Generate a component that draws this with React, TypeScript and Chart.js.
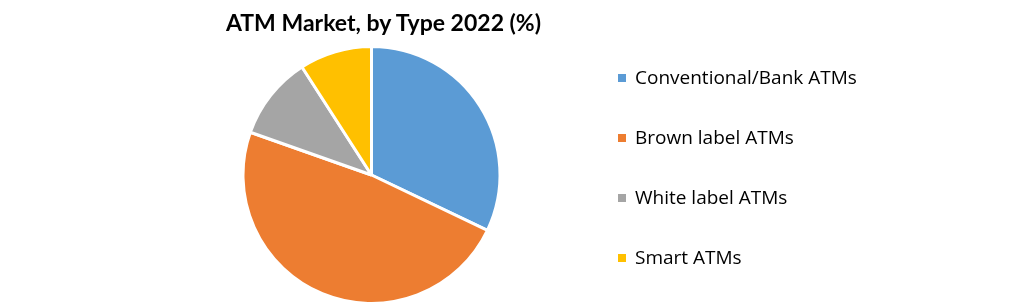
import React, { useEffect, useRef } from "react";
import { Chart, registerables } from "chart.js";

Chart.register(...registerables);

const title = "ATM Market, by Type 2022 (%)";
const categories = ["Conventional/Bank ATMs", "Brown label ATMs", "White label ATMs", "Smart ATMs"];
const shares = [32.1, 48.3, 10.5, 9.1];
const colors = ["#5B9BD5", "#ED7D31", "#A5A5A5", "#FFC000"];

export default function App() {
  const ref = useRef<HTMLCanvasElement | null>(null);

  useEffect(() => {
    document.body.style.margin = "0";
    if (!ref.current) return;
    const chart = new Chart(ref.current, {
      type: "pie",
      data: {
        labels: categories,
        datasets: [
          {
            data: shares,
            backgroundColor: colors,
            borderColor: "#ffffff",
            borderWidth: 3,
            radius: 128.5,
          } as any,
        ],
      },
      options: {
        responsive: false,
        animation: false,
        devicePixelRatio: 1,
        layout: { padding: { left: 0, right: 278, top: 48, bottom: 2 } },
        plugins: {
          legend: { display: false },
          title: { display: false },
          tooltip: { enabled: false },
        },
      },
    });
    return () => chart.destroy();
  }, []);

  const rowCenters = [78, 138, 198, 258];

  return (
    <div style={{ position: "fixed", left: 0, top: 0, width: 1021, height: 304, background: "#fff", overflow: "hidden" }}>
      <canvas ref={ref} width={1021} height={304} style={{ position: "absolute", left: 0, top: 0 }} />
      <div
        style={{
          position: "absolute",
          left: 0,
          width: 767,
          top: 10,
          lineHeight: "24px",
          textAlign: "center",
          fontFamily: "Lato, sans-serif",
          fontWeight: 700,
          fontSize: 23,
          color: "#000",
          whiteSpace: "nowrap",
        }}
      >
        {title}
      </div>
      {categories.map((c, i) => (
        <React.Fragment key={c}>
          <div
            style={{
              position: "absolute",
              left: 618,
              top: rowCenters[i] - 4,
              width: 8,
              height: 8,
              background: colors[i],
            }}
          />
          <div
            style={{
              position: "absolute",
              left: 635,
              top: rowCenters[i] - 12.6,
              lineHeight: "24px",
              fontFamily: "'Open Sans', sans-serif",
              fontSize: 19,
              color: "#000",
              whiteSpace: "nowrap",
            }}
          >
            {c}
          </div>
        </React.Fragment>
      ))}
    </div>
  );
}
